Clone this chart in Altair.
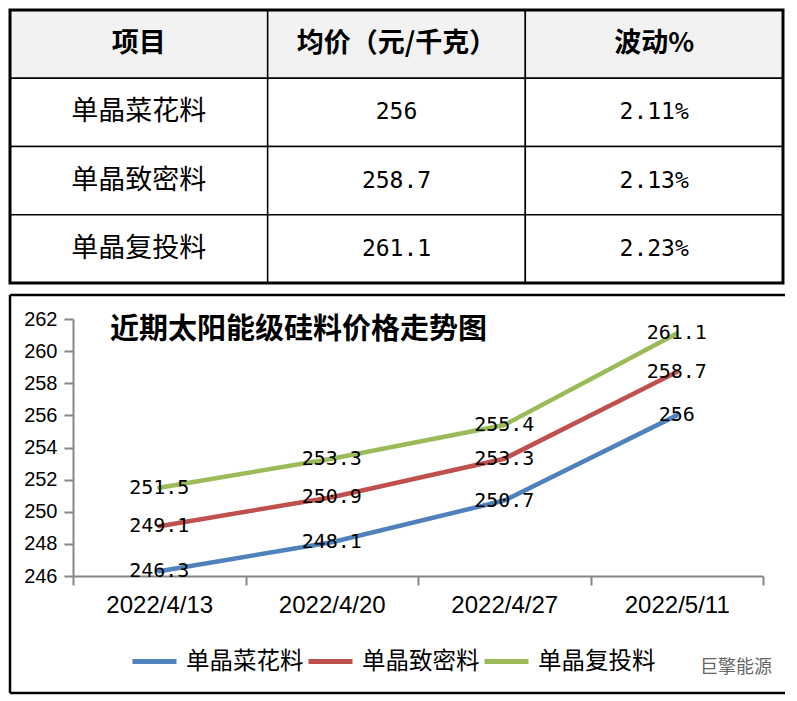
import altair as alt
import pandas as pd

# ---------------- table data ----------------
headers = ["项目", "均价（元/千克）", "波动%"]
items = ["单晶菜花料", "单晶致密料", "单晶复投料"]
avg_prices = ["256", "258.7", "261.1"]
changes = ["2.11%", "2.13%", "2.23%"]

# ---------------- chart data ----------------
dates = ["2022/4/13", "2022/4/20", "2022/4/27", "2022/5/11"]
series_names = ["单晶菜花料", "单晶致密料", "单晶复投料"]
caihua = [246.3, 248.1, 250.7, 256]
zhimi = [249.1, 250.9, 253.3, 258.7]
futou = [251.5, 253.3, 255.4, 261.1]
colors = ["#4F81BD", "#C0504D", "#9BBB59"]
title_text = "近期太阳能级硅料价格走势图"
watermark = "巨擎能源"
y_ticks = [246, 248, 250, 252, 254, 256, 258, 260, 262]

# ---------------- table ----------------
rows = []
for c, h in enumerate(headers):
    rows.append(dict(col=c, row=0, text=h, kind="header"))
for r in range(len(items)):
    rows.append(dict(col=0, row=r + 1, text=items[r], kind="item"))
    rows.append(dict(col=1, row=r + 1, text=avg_prices[r], kind="num"))
    rows.append(dict(col=2, row=r + 1, text=changes[r], kind="num"))
cells = pd.DataFrame(rows)
cells["col2"] = cells["col"] + 1
cells["row2"] = cells["row"] + 1
cells["cx"] = cells["col"] + 0.5
cells["cy"] = cells["row"] + 0.5

PW, PH = 690, 257          # plot area of the line chart
TL, TR = -63, 710          # table extent relative to the plot's left edge
TH = 273

xs = alt.Scale(domain=[0, 3], range=[TL, TR], nice=False, zero=False)
ys = alt.Scale(domain=[0, 4], nice=False, zero=False, reverse=True)

tbase = alt.Chart(cells)
cell_rect = tbase.mark_rect(stroke="black", strokeWidth=1.5).encode(
    x=alt.X("col:Q", scale=xs, axis=None),
    x2="col2:Q",
    y=alt.Y("row:Q", scale=ys, axis=None),
    y2="row2:Q",
    fill=alt.condition("datum.row == 0", alt.value("#F2F2F2"), alt.value("white")),
)
tx = alt.X("cx:Q", scale=xs, axis=None)
ty = alt.Y("cy:Q", scale=ys, axis=None)
head_text = tbase.transform_filter("datum.kind == 'header'").mark_text(
    font="Noto Sans CJK SC", fontSize=27, fontWeight="bold", color="black", baseline="middle"
).encode(x=tx, y=ty, text="text:N")
item_text = tbase.transform_filter("datum.kind == 'item'").mark_text(
    font="Noto Sans CJK SC", fontSize=27, color="black", baseline="middle"
).encode(x=tx, y=ty, text="text:N")
num_text = tbase.transform_filter("datum.kind == 'num'").mark_text(
    font="DejaVu Sans Mono", fontSize=23, color="black", baseline="middle"
).encode(x=tx, y=ty, text="text:N")

one = pd.DataFrame({"k": [0]})
outer = alt.Chart(one).mark_rect(fillOpacity=0, stroke="black", strokeWidth=3).encode(
    x=alt.value(TL), x2=alt.value(TR), y=alt.value(0), y2=alt.value(TH)
)
table = alt.layer(cell_rect, head_text, item_text, num_text, outer).properties(width=PW, height=TH)

# ---------------- line chart ----------------
long = pd.DataFrame({
    "date": dates * 3,
    "series": [n for n in series_names for _ in dates],
    "value": caihua + zhimi + futou,
})
long["label"] = long["value"].map(lambda v: f"{v:g}")

axis_gray = "#868686"
x_enc = alt.X(
    "date:N", sort=dates,
    scale=alt.Scale(type="band", paddingInner=0, paddingOuter=0),
    axis=alt.Axis(title=None, labelAngle=0, tickBand="extent", domainColor=axis_gray,
                  domainWidth=2, tickColor=axis_gray, tickWidth=2, tickSize=9,
                  labelFont="Liberation Sans", labelFontSize=24, labelColor="black",
                  labelPadding=8),
)
y_enc = alt.Y(
    "value:Q",
    scale=alt.Scale(domain=[246, 262], nice=False, zero=False),
    axis=alt.Axis(title=None, values=y_ticks, grid=False, domainColor=axis_gray,
                  domainWidth=2, tickColor=axis_gray, tickWidth=2, tickSize=9,
                  labelFont="Liberation Sans", labelFontSize=20, labelColor="black",
                  labelPadding=7),
)
color_enc = alt.Color(
    "series:N",
    scale=alt.Scale(domain=series_names, range=colors),
    legend=alt.Legend(title=None, orient="none", legendX=57, legendY=318,
                      direction="horizontal", symbolType="stroke", symbolStrokeWidth=5,
                      symbolSize=1936, labelFont="Noto Sans CJK SC", labelFontSize=23.5,
                      labelColor="black", labelOffset=7, columnPadding=-6),
)

lines = alt.Chart(long).mark_line(strokeWidth=4.5, strokeCap="round").encode(
    x=x_enc, y=y_enc, color=color_enc, order=alt.Order("date:N")
)
labels = alt.Chart(long).mark_text(
    font="DejaVu Sans Mono", fontSize=20, color="black", baseline="middle"
).encode(x=x_enc, y=y_enc, text="label:N")

title = alt.Chart(pd.DataFrame({"t": [title_text]})).mark_text(
    align="left", baseline="middle", font="Noto Sans CJK SC", fontSize=29,
    fontWeight="bold", color="black"
).encode(x=alt.value(37), y=alt.value(11), text="t:N")

wm = alt.Chart(pd.DataFrame({"t": [watermark]})).mark_text(
    align="left", baseline="middle", font="Noto Sans CJK SC", fontSize=18, color="#666666"
).encode(x=alt.value(627), y=alt.value(349), text="t:N")

left_rule = alt.Chart(one).mark_rule(color="black", strokeWidth=2.5).encode(
    x=alt.value(-63), y=alt.value(-24), y2=alt.value(374))
top_rule = alt.Chart(one).mark_rule(color="black", strokeWidth=2.5).encode(
    x=alt.value(-63), x2=alt.value(712), y=alt.value(-24))
bot_rule = alt.Chart(one).mark_rule(color="black", strokeWidth=2.5).encode(
    x=alt.value(-63), x2=alt.value(712), y=alt.value(374))

chart_panel = alt.layer(left_rule, top_rule, bot_rule, lines, labels, title, wm).properties(
    width=PW, height=PH
)

chart = alt.vconcat(table, chart_panel, spacing=8).resolve_legend(
    color="independent"
).properties(padding=0, background="white").configure_view(stroke=None)

chart.save("out.html", embed_options={"renderer": "svg", "actions": False})
